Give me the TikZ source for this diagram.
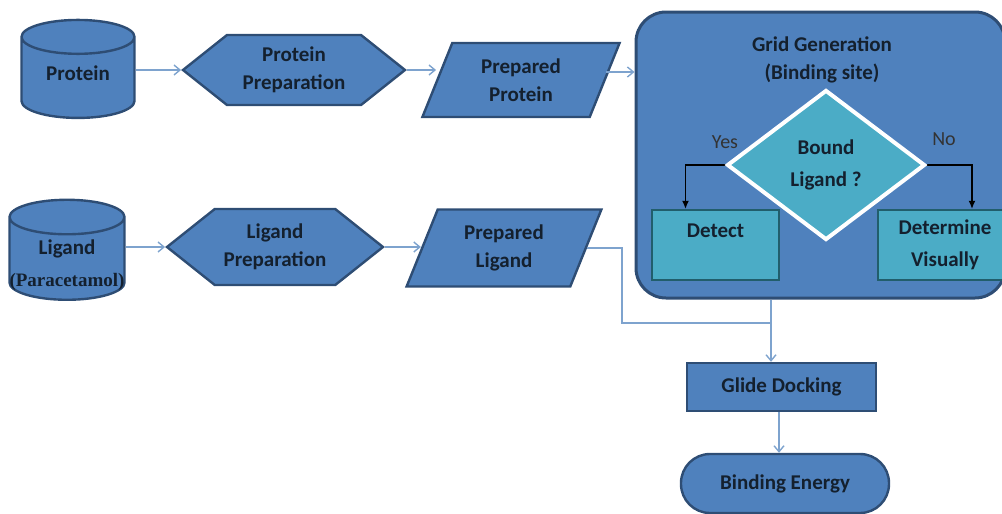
\documentclass[tikz,border=0pt]{standalone}
\usepackage{fontspec}
\setmainfont{Carlito}
\newfontfamily\paraserif{Liberation Serif}
\usetikzlibrary{positioning,arrows.meta,shapes.geometric,shapes.symbols}
\definecolor{flowblue}{HTML}{4F81BD}
\definecolor{flowedge}{HTML}{2E4D74}
\definecolor{flowteal}{HTML}{4BACC6}
\definecolor{tealedge}{HTML}{215E6C}
\definecolor{linkblue}{HTML}{7EA3CE}
\definecolor{inkdark}{HTML}{14202E}

\begin{document}
\begin{tikzpicture}[x=0.5pt, y=-0.5pt,
  every node/.style={font=\fontsize{10.5}{14}\selectfont\bfseries, text=inkdark, align=center},
  store/.style={draw=flowedge, line width=1.2pt, fill=flowblue, cylinder, shape border rotate=90, aspect=0.3, inner sep=0pt},
  prep/.style={draw=flowedge, line width=1.2pt, fill=flowblue, signal, signal to=east and west, signal pointer angle=77, inner sep=0pt},
  data/.style={draw=flowedge, line width=1.2pt, fill=flowblue, trapezium, trapezium left angle=68, trapezium right angle=112, inner sep=0pt},
  panel/.style={draw=flowedge, line width=1.5pt, fill=flowblue, rounded corners=15pt},
  tealbox/.style={draw=tealedge, line width=1.2pt, fill=flowteal},
  procbox/.style={draw=flowedge, line width=1.2pt, fill=flowblue},
  answer/.style={font=\fontsize{10}{12}\selectfont, text=black!80},
  link/.style={draw=linkblue, line width=0.7pt},
  arr/.style={link, -{Straight Barb[length=3pt, width=5pt]}},
  choice/.style={-{Latex[length=4pt, width=3.5pt]}, line width=0.6pt, black}]
\useasboundingbox (0,0) rectangle (1002,514);

% protein row
\node[store, text width=56.5pt, minimum height=49pt] (protein) at (78,78) {};
\node (proteintext) at (78,73) {Protein};
\node[prep, minimum width=111pt, minimum height=35pt] (protprep) at (294,70) {Protein\\ Preparation};
\node[data, minimum width=96pt, minimum height=37pt] (protready) at (521,80) {Prepared\\ Protein};

% ligand row
\node[store, text width=57.5pt, minimum height=50pt] (ligand) at (67,259) {};
\node (ligandtext) at (67,265)
  {Ligand\\[2pt] {\paraserif\fontsize{9.5}{11}\selectfont\bfseries (Paracetamol)}};
\node[prep, minimum width=108pt, minimum height=38pt] (ligprep) at (275,247) {Ligand\\ Preparation};
\node[data, minimum width=96pt, minimum height=38.5pt] (ligready) at (504,248) {Prepared\\ Ligand};

% grid generation panel
\node[panel, minimum width=184.5pt, minimum height=143pt] (gridbox) at (820.5,155) {};
\node (gridtitle) at (822,60) {Grid Generation\\ (Binding site)};
\node[tealbox, minimum width=63.5pt, minimum height=35pt] (detect) at (715.5,245) {Detect\\ \mbox{}};
\node[tealbox, minimum width=67pt, minimum height=35pt] (visual) at (945,245) {Determine\\[2pt] Visually};
\draw[choice] (826,165) ++(-99,0) coordinate (yesend) -| ([xshift=-15pt]detect.north);
\draw[choice] (826,165) ++(99,0) coordinate (noend) -| ([xshift=13.5pt]visual.north);
\node[diamond, draw=white, line width=2pt, fill=flowteal, minimum width=99pt, minimum height=75pt, inner sep=0pt] (bound) at (826,165) {Bound\\[2pt] Ligand ?};
\node[answer] (yes) at (725,142) {Yes};
\node[answer] (no) at (944,139) {No};

% docking
\node[procbox, minimum width=94.5pt, minimum height=24pt] (glide) at (781.5,387) {Glide Docking};
\node[procbox, rounded corners=14.5pt, minimum width=104pt, minimum height=29.5pt] (energy) at (785,483.5) {Binding Energy};
\coordinate (join) at (771,323);

% connectors
\draw[arr] (protein.east |- protprep.west) -- (protprep.west);
\draw[arr] (protprep.east) -- (protprep.east -| protready.west);
\draw[arr] ([yshift=4pt]protready.east) -- ([yshift=4pt]protready.east -| gridbox.west);
\draw[arr] (ligand.east |- ligprep.west) -- (ligprep.west);
\draw[arr] (ligprep.east) -- (ligprep.east -| ligready.west);
\draw[link] (ligready.east) -- ++(35,0) |- (join);
\draw[link] (gridbox.south -| join) -- (join);
\draw[arr] (join) -- (join |- glide.north);
\draw[arr] (glide.south -| 779,0) -- (energy.north -| 779,0);
\end{tikzpicture}
\end{document}
